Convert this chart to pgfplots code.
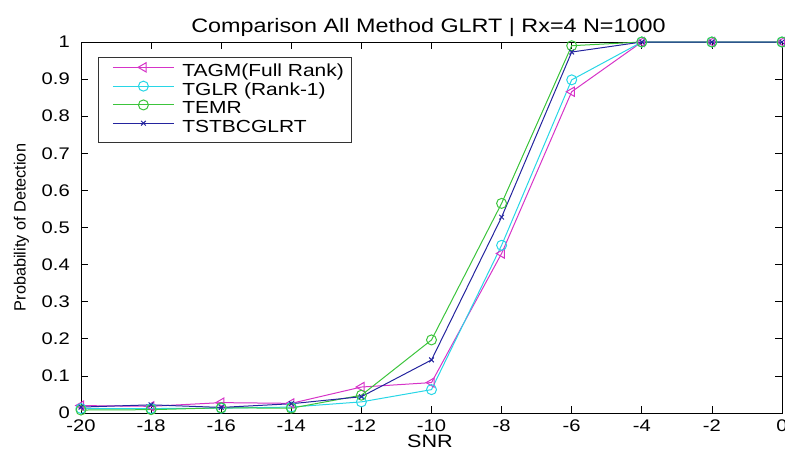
\documentclass[border=0pt]{standalone}
\usepackage{fontspec}
\setmainfont{Liberation Sans}[FakeStretch=1.2]
\newfontfamily\ylfont{Liberation Sans}
\usepackage{pgfplots}
\pgfplotsset{compat=1.18}

\definecolor{cM}{RGB}{214,52,200}
\definecolor{cC}{RGB}{40,214,230}
\definecolor{cG}{RGB}{60,196,60}
\definecolor{cB}{RGB}{36,36,158}

\begin{document}
\begin{tikzpicture}
% page extent: 785 x 451 px at 0.75pt per px, axis box lower-left at origin
\useasboundingbox (-60.75pt,-28.5pt) rectangle (528pt,309.75pt);
\begin{axis}[
  scale only axis,
  width=525.75pt, height=278.25pt,
  at={(0,0)}, anchor=south west,
  xmin=-20, xmax=0, ymin=0, ymax=1,
  xtick={-20,-18,-16,-14,-12,-10,-8,-6,-4,-2,0},
  xticklabels={-20,-18,-16,-14,-12,-10,-8,-6,-4,-2,0},
  ytick={0,0.1,0.2,0.3,0.4,0.5,0.6,0.7,0.8,0.9,1},
  yticklabels={0,0.1,0.2,0.3,0.4,0.5,0.6,0.7,0.8,0.9,1},
  tick align=inside,
  major tick length=5.25pt,
  every tick/.style={black, line width=0.6pt},
  axis line style={black, line width=0.75pt},
  xticklabel style={anchor=base, yshift=-13.5pt, inner sep=0pt,
    font=\fontsize{12.6}{15}\selectfont},
  yticklabel style={anchor=east, xshift=-8.25pt, inner sep=0pt,
    font=\fontsize{12.6}{15}\selectfont},
  clip=false,
  legend style={
    at={(0.02425,0.9596)}, anchor=north west,
    draw=black!80, line width=0.6pt,
    inner xsep=6pt, inner ysep=4pt,
    font=\fontsize{13.1}{15}\selectfont,
    nodes={inner sep=0pt, text height=10pt, text depth=3.7pt},
    row sep=0pt,
  },
  legend cell align=left,
  legend image code/.code={
    \path (0pt,0pt) (56.25pt,0pt);
    \draw[mark repeat=2, mark phase=2, #1]
      plot coordinates {(4.5pt,3.5pt) (27.4pt,3.5pt) (50.25pt,3.5pt)};
  },
]
\addplot[cM, line width=0.75pt, mark=triangle, mark size=4pt,
  mark options={rotate=90, solid}] coordinates {
  (-20,0.020) (-18,0.018) (-16,0.028) (-14,0.026) (-12,0.070) (-10,0.082)
  (-8,0.430) (-6,0.866) (-4,1) (-2,1) (0,1)};
\addlegendentry{TAGM(Full Rank)}
\addplot[cC, line width=0.75pt, mark=o, mark size=3.75pt] coordinates {
  (-20,0.012) (-18,0.012) (-16,0.013) (-14,0.016) (-12,0.030) (-10,0.063)
  (-8,0.452) (-6,0.898) (-4,1) (-2,1) (0,1)};
\addlegendentry{TGLR (Rank-1)}
\addplot[cG, line width=0.75pt, mark=o, mark size=3.75pt] coordinates {
  (-20,0.008) (-18,0.009) (-16,0.014) (-14,0.013) (-12,0.048) (-10,0.197)
  (-8,0.565) (-6,0.990) (-4,1) (-2,1) (0,1)};
\addlegendentry{TEMR}
\addplot[cB, line width=0.75pt, mark=x, mark size=2.5pt] coordinates {
  (-20,0.016) (-18,0.022) (-16,0.015) (-14,0.025) (-12,0.044) (-10,0.143)
  (-8,0.528) (-6,0.973) (-4,1) (-2,1) (0,1)};
\addlegendentry{TSTBCGLRT}
\end{axis}
% title, axis labels
\node[anchor=base, inner sep=0pt, font=\fontsize{14.6}{17}\selectfont]
  at (260.6pt,285.5pt) {Comparison All Method GLRT | Rx=4 N=1000};
\node[anchor=base, inner sep=0pt, font=\fontsize{13.5}{16}\selectfont]
  at (261.75pt,-25.5pt) {SNR};
\node[rotate=90, inner sep=0pt, font=\ylfont\fontsize{12.2}{15}\selectfont]
  at (-44.6pt,139.1pt) {Probability of Detection};
\end{tikzpicture}
\end{document}
